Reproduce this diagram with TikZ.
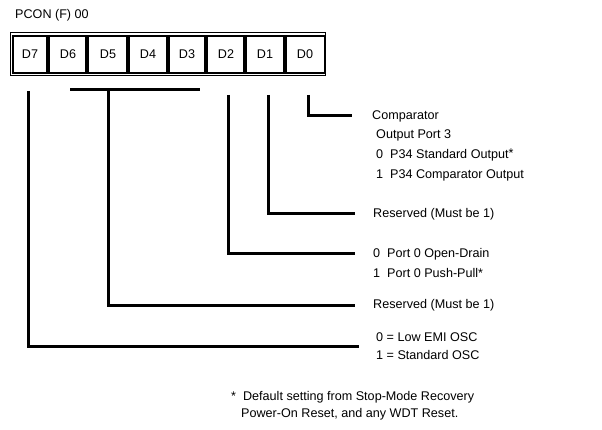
\documentclass[tikz,border=0pt]{standalone}
\usepackage{fontspec}
\setmainfont{Liberation Sans}
\usetikzlibrary{calc}

\tikzset{
  lbl/.style={font=\fontsize{12.6}{15}\selectfont, inner sep=0pt},
  txt/.style={lbl, anchor=west},
  wire/.style={line width=3pt},
  divider/.style={line width=3.5pt}
}

\begin{document}
\begin{tikzpicture}[x=1pt, y=-1pt]
    \useasboundingbox (0,0) rectangle (602,430);

    % Register name
    \node[txt] (pcon) at (15,15) {PCON (F) 00};

    % Register box, double outline
    \draw[line width=1pt] (10,33) rectangle (325,76);
    \draw[line width=1.8pt] (13,36) rectangle (325,73);

    % Bit dividers
    \foreach \x in {48,87,128,168,206,245,285}
        \draw[divider] (\x,36) -- (\x,73);

    % Bit cells
    \node[lbl] (d7) at (30,54.5) {D7};
    \node[lbl] (d6) at (68,54.5) {D6};
    \node[lbl] (d5) at (108,54.5) {D5};
    \node[lbl] (d4) at (148,54.5) {D4};
    \node[lbl] (d3) at (187,54.5) {D3};
    \node[lbl] (d2) at (226,54.5) {D2};
    \node[lbl] (d1) at (265,54.5) {D1};
    \node[lbl] (d0) at (305,54.5) {D0};

    % Descriptions
    \node[txt] (comp) at (372,116) {Comparator};
    \node[txt] (outp) at (376,135) {Output Port 3};
    \node[txt] (std) at (376,155) {0\ \ P34 Standard Output\raisebox{1.5pt}{*}};
    \node[txt] (cmpo) at (376,175) {1\ \ P34 Comparator Output};
    \node[txt] (res1) at (373,214) {Reserved (Must be 1)};
    \node[txt] (od) at (373,254) {0\ \ Port 0 Open-Drain};
    \node[txt] (pp) at (373,273) {1\ \ Port 0 Push-Pull*};
    \node[txt] (res2) at (373,305) {Reserved (Must be 1)};
    \node[txt] (low) at (376,337) {0 = Low EMI OSC};
    \node[txt] (stdosc) at (376,355) {1 = Standard OSC};

    % Footnote
    \node[txt] (foot1) at (231,397) {*\ \ Default setting from Stop-Mode Recovery};
    \node[txt] (foot2) at (241,414) {Power-On Reset, and any WDT Reset.};

    % Line tops under the cells
    \coordinate (t0) at (308,95);
    \coordinate (t1) at (268,95);
    \coordinate (t2) at (228,95);
    \coordinate (t7) at (28,91);
    \coordinate (bl) at (70,90);
    \coordinate (br) at (200,90);
    \coordinate (t5) at (108,91.5);

    % Connectors
    \draw[wire] (t0) |- ([xshift=-20pt]comp.west);
    \draw[wire] (t1) |- ([xshift=-18pt]res1.west);
    \draw[wire] (t2) |- ([xshift=-18pt]od.west);
    \draw[wire] (bl) -- (br);
    \draw[wire] (t5) |- ([xshift=-18pt]res2.west);
    \draw[wire] (t7) |- ([xshift=-17pt]$(low.west)!0.5!(stdosc.west)$);
\end{tikzpicture}
\end{document}
